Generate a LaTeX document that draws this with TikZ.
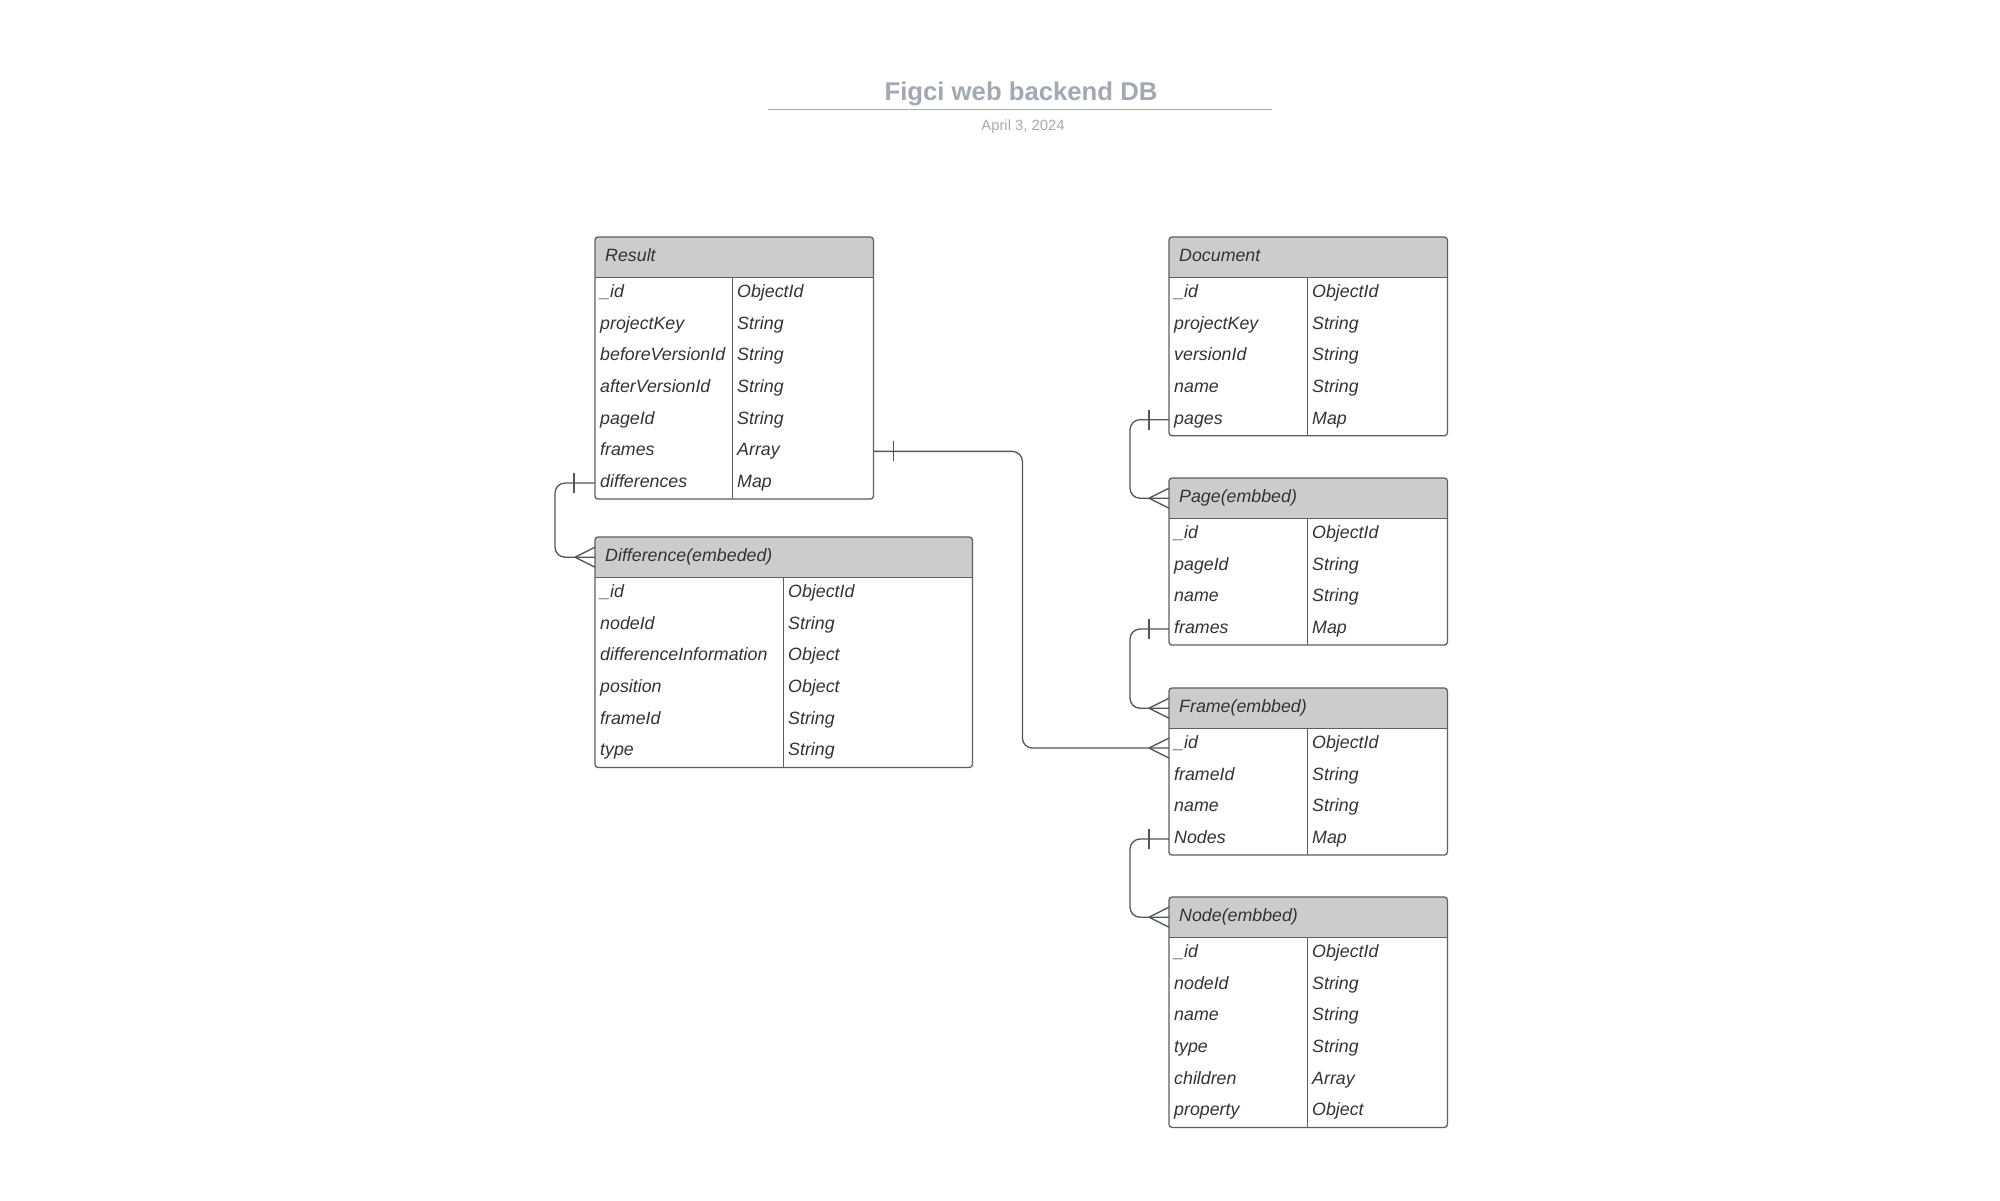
\documentclass[tikz,border=0pt]{standalone}
\usepackage{fontspec}
\setmainfont{Liberation Sans}
\definecolor{titlec}{HTML}{A2A8B4}
\definecolor{datec}{HTML}{A7ACB6}
\definecolor{txt}{HTML}{333333}
\definecolor{hdrfill}{HTML}{CCCCCC}
\definecolor{tblc}{HTML}{5F5F5F}
\definecolor{connc}{HTML}{50565F}
\tikzset{
  hdr/.style={anchor=north west, inner xsep=10pt, inner ysep=0pt, minimum height=40pt,
    text height=13pt, text depth=4pt, align=left, text=txt,
    font=\fontsize{17.8}{20}\selectfont\itshape},
  fld/.style={anchor=north west, inner xsep=5pt, inner ysep=0pt, minimum height=31.67pt,
    text height=13pt, text depth=4pt, align=left, text=txt,
    font=\fontsize{17.8}{20}\selectfont\itshape},
  tbl/.style={draw=tblc, line width=1.3pt},
  conn/.style={draw=connc, line width=1.3pt},
}
\newcommand\erdtable[8]{% name, x, y, col1, total, nrows, title, rows
  \pgfmathsetmacro\wh{#5-20}%
  \pgfmathsetmacro\wa{#4-10}%
  \pgfmathsetmacro\wb{#5-#4-10}%
  \pgfmathsetmacro\xb{#2+#4}%
  \pgfmathsetmacro\ybot{#3+40+#6*31.67}%
  \begin{scope}
    \clip[rounded corners=3pt] (#2,#3) rectangle ({#2+#5},\ybot);
    \fill[hdrfill] (#2,#3) rectangle ({#2+#5},{#3+40});
  \end{scope}
  \node[hdr, text width=\wh pt] (#1-h) at (#2,#3) {#7};
  \foreach \fa/\fb [count=\i] in {#8} {
    \node[fld, text width=\wa pt] (#1-\i) at (#2,{#3+40+(\i-1)*31.67}) {\fa};
    \node[fld, text width=\wb pt] (#1-\i t) at (\xb,{#3+40+(\i-1)*31.67}) {\fb};
  }
  \draw[tbl] (#1-h.south west) -- (#1-h.south east);
  \draw[tbl] (#1-1.north east) -- (#1-#6.south east);
  \draw[tbl, rounded corners=3pt] (#1-h.north west) rectangle (#1-#6t.south east);
}
\newcommand\ticky[2]{\draw[conn] ([xshift=#2pt,yshift=10pt]#1) -- ([xshift=#2pt,yshift=-10pt]#1);}
\newcommand\crow[1]{\draw[conn] ([xshift=-20pt]#1) -- ([yshift=10pt]#1) ([xshift=-20pt]#1) -- ([yshift=-10pt]#1);}
\begin{document}
\begin{tikzpicture}[x=1pt,y=-1pt]
  \fill[white] (0,0) rectangle (2000,1200);
  \useasboundingbox (0,0) rectangle (2000,1200);

  \node[font=\bfseries\fontsize{25.7}{30}\selectfont, text=titlec] (title) at (1021,93.5) {Figci web backend DB};
  \coordinate (tl) at (768,109.5);
  \coordinate (tr) at (1272,109.5);
  \draw[titlec, line width=1.6pt] (tl) -- (tr);
  \node[font=\fontsize{14.8}{17}\selectfont, text=datec] (date) at (1023,126.5) {April 3, 2024};

  \erdtable{res}{595}{237}{137}{278}{7}{Result}
    {\_id/ObjectId, projectKey/String, beforeVersionId/String, afterVersionId/String, pageId/String, frames/Array, differences/Map}
  \erdtable{dif}{595}{537}{188}{377}{6}{Difference(embeded)}
    {\_id/ObjectId, nodeId/String, differenceInformation/Object, position/Object, frameId/String, type/String}
  \erdtable{doc}{1169}{237}{138}{278}{5}{Document}
    {\_id/ObjectId, projectKey/String, versionId/String, name/String, pages/Map}
  \erdtable{pag}{1169}{478}{138}{278}{4}{Page(embbed)}
    {\_id/ObjectId, pageId/String, name/String, frames/Map}
  \erdtable{fra}{1169}{688}{138}{278}{4}{Frame(embbed)}
    {\_id/ObjectId, frameId/String, name/String, Nodes/Map}
  \erdtable{nod}{1169}{897}{138}{278}{6}{Node(embbed)}
    {\_id/ObjectId, nodeId/String, name/String, type/String, children/Array, property/Object}

  % connectors
  \draw[conn, rounded corners=10pt] (res-7.west) -- ++(-40,0) |- (dif-h.west);
  \ticky{res-7.west}{-21}
  \crow{dif-h.west}

  \coordinate (fraIn) at ([yshift=-4pt]fra-1.west);
  \draw[conn, rounded corners=10pt] (res-6t.east) -- ++(149,0) |- (fraIn);
  \ticky{res-6t.east}{20}
  \crow{fraIn}

  \draw[conn, rounded corners=10pt] (doc-5.west) -- ++(-39,0) |- (pag-h.west);
  \ticky{doc-5.west}{-20}
  \crow{pag-h.west}

  \draw[conn, rounded corners=10pt] (pag-4.west) -- ++(-39,0) |- (fra-h.west);
  \ticky{pag-4.west}{-20}
  \crow{fra-h.west}

  \draw[conn, rounded corners=10pt] (fra-4.west) -- ++(-39,0) |- (nod-h.west);
  \ticky{fra-4.west}{-20}
  \crow{nod-h.west}
\end{tikzpicture}
\end{document}
